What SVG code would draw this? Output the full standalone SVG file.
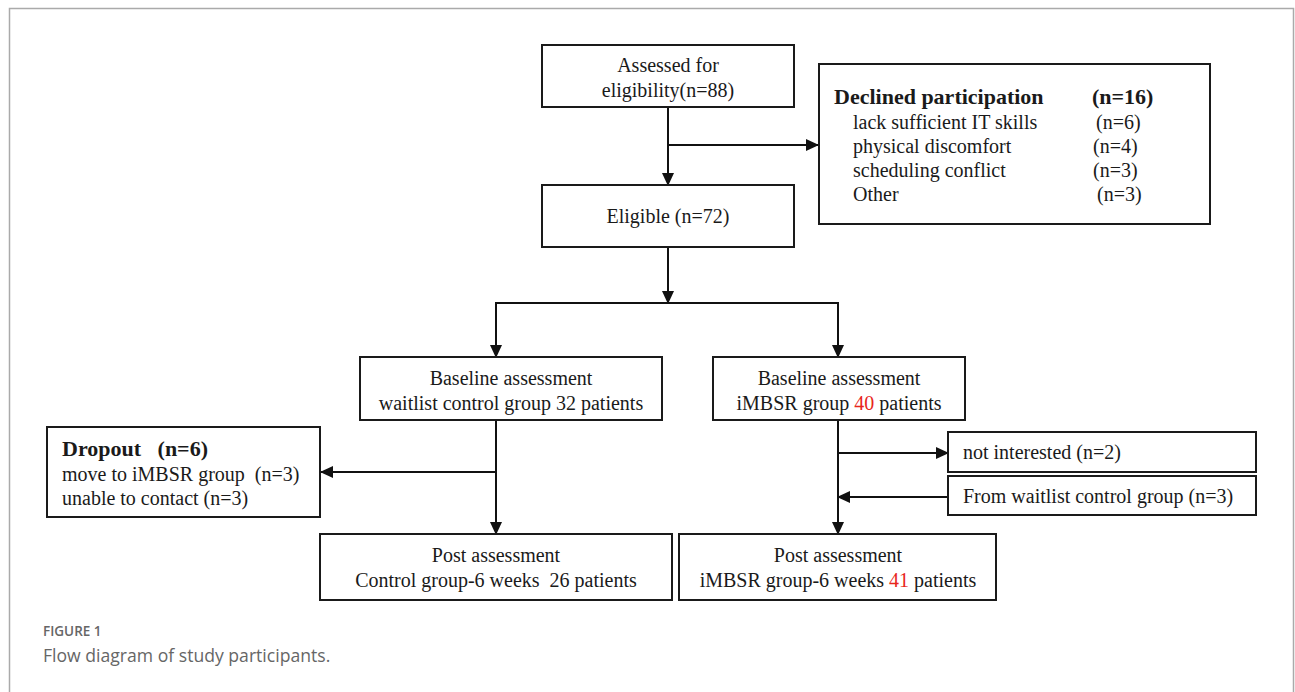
<svg xmlns="http://www.w3.org/2000/svg" width="1295" height="692" viewBox="0 0 1295 692">
<style>
.box{fill:#fff;stroke:#1a1a1a;stroke-width:2}
.t{font-family:"Liberation Serif","Times New Roman",serif;font-size:20px;fill:#1a1a1a}
.c{text-anchor:middle}
.b{font-weight:bold;font-size:22px}
.red{fill:#e8261c}
.ln{stroke:#111;stroke-width:2;fill:none}
.cap{font-family:"Open Sans","Noto Sans",sans-serif;fill:#666}
</style>
<defs>
<marker id="ah" markerWidth="13" markerHeight="12" refX="12" refY="6" orient="auto" markerUnits="userSpaceOnUse">
<path d="M0,0 L13,6 L0,12 Z" fill="#111"/>
</marker>
</defs>
<rect width="1295" height="692" fill="#fff"/>
<path d="M9.5,692 V8.5 H1293.5 V692" fill="none" stroke="#aaa" stroke-width="1.5"/>

<g id="connectors">
<line class="ln" x1="668" y1="107" x2="668" y2="185" marker-end="url(#ah)"/>
<line class="ln" x1="668" y1="145" x2="818" y2="145" marker-end="url(#ah)"/>
<line class="ln" x1="668" y1="247" x2="668" y2="303" marker-end="url(#ah)"/>
<polyline class="ln" points="496,357 496,303 838,303 838,357"/>
<line class="ln" x1="496" y1="303" x2="496" y2="357" marker-end="url(#ah)"/>
<line class="ln" x1="838" y1="303" x2="838" y2="357" marker-end="url(#ah)"/>
<line class="ln" x1="496" y1="420" x2="496" y2="534" marker-end="url(#ah)"/>
<line class="ln" x1="496" y1="472" x2="321" y2="472" marker-end="url(#ah)"/>
<line class="ln" x1="838" y1="420" x2="838" y2="534" marker-end="url(#ah)"/>
<line class="ln" x1="838" y1="453" x2="948" y2="453" marker-end="url(#ah)"/>
<line class="ln" x1="948" y1="497" x2="838" y2="497" marker-end="url(#ah)"/>
</g>

<g id="assessed">
<rect class="box" x="542" y="45" width="252" height="62"/>
<text class="t c" x="668" y="72">Assessed  for</text>
<text class="t c" x="668" y="97">eligibility(n=88)</text>
</g>

<g id="declined">
<rect class="box" x="819" y="64" width="391" height="160"/>
<text class="t b" x="834" y="104">Declined participation</text>
<text class="t b" x="1092" y="104">(n=16)</text>
<text class="t" x="853" y="129">lack sufficient IT skills</text>
<text class="t" x="1096" y="129">(n=6)</text>
<text class="t" x="853" y="153">physical  discomfort</text>
<text class="t" x="1093" y="153">(n=4)</text>
<text class="t" x="853" y="177">scheduling conflict</text>
<text class="t" x="1093" y="177">(n=3)</text>
<text class="t" x="853" y="201">Other</text>
<text class="t" x="1097" y="201">(n=3)</text>
</g>

<g id="eligible">
<rect class="box" x="542" y="185" width="252" height="62"/>
<text class="t c" x="668" y="223">Eligible (n=72)</text>
</g>

<g id="baseline-control">
<rect class="box" x="360" y="357" width="302" height="63"/>
<text class="t c" x="511" y="385">Baseline assessment</text>
<text class="t c" x="511" y="410">waitlist control group 32 patients</text>
</g>

<g id="baseline-imbsr">
<rect class="box" x="713" y="357" width="252" height="63"/>
<text class="t c" x="839" y="385">Baseline assessment</text>
<text class="t c" x="839" y="410">iMBSR group <tspan class="red">40</tspan> patients</text>
</g>

<g id="dropout">
<rect class="box" x="47" y="427" width="273" height="90"/>
<text class="t b" x="62" y="456" xml:space="preserve">Dropout   (n=6)</text>
<text class="t" x="62" y="481" xml:space="preserve">move to iMBSR group  (n=3)</text>
<text class="t" x="62" y="505">unable to contact (n=3)</text>
</g>

<g id="not-interested">
<rect class="box" x="948" y="432" width="308" height="40"/>
<text class="t" x="963" y="459">not interested (n=2)</text>
</g>

<g id="from-waitlist">
<rect class="box" x="948" y="476" width="308" height="39"/>
<text class="t" x="963" y="503">From waitlist control group (n=3)</text>
</g>

<g id="post-control">
<rect class="box" x="320" y="534" width="352" height="66"/>
<text class="t c" x="496" y="562">Post assessment</text>
<text class="t c" x="496" y="587" xml:space="preserve">Control group-6 weeks  26 patients</text>
</g>

<g id="post-imbsr">
<rect class="box" x="679" y="534" width="317" height="66"/>
<text class="t c" x="838" y="562">Post assessment</text>
<text class="t c" x="838" y="587">iMBSR group-6 weeks <tspan class="red">41</tspan> patients</text>
</g>

<g id="caption">
<text class="cap" x="43" y="636" font-size="13.5" font-weight="600">FIGURE 1</text>
<text class="cap" x="43" y="662" font-size="17.6">Flow diagram of study participants.</text>
</g>
</svg>
